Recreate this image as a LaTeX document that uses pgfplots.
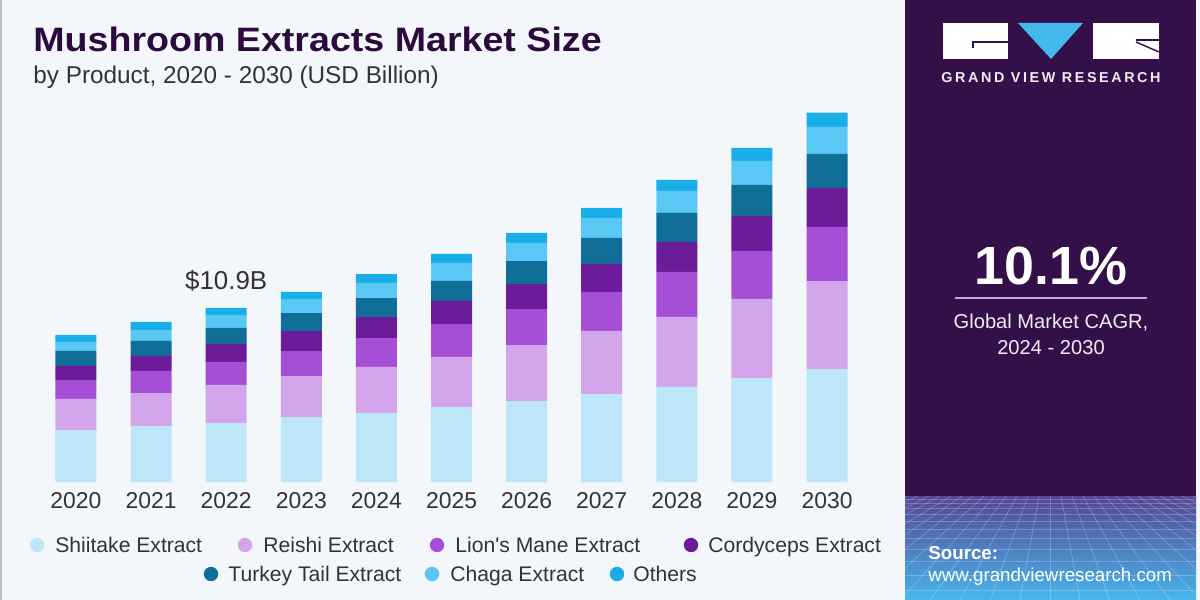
\documentclass[border=0pt]{standalone}
\usepackage{pgfplots}
\pgfplotsset{compat=1.18}
\usepackage{fontspec}
\setmainfont{Liberation Sans}
\newfontfamily\spaced[LetterSpace=18]{Liberation Sans}
\newfontfamily\legfont{Liberation Sans}[Ligatures=TeXOff]
\definecolor{bg}{HTML}{F3F7FB}
\definecolor{panel}{HTML}{34104A}
\definecolor{titlec}{HTML}{2D0A3E}
\definecolor{txt}{HTML}{333333}
\definecolor{logoblue}{HTML}{45B8EC}
\definecolor{lav}{HTML}{C4A8E0}
\definecolor{cShi}{HTML}{BDE7F8}
\definecolor{cRei}{HTML}{D3A6EC}
\definecolor{cLion}{HTML}{A54FD6}
\definecolor{cCord}{HTML}{6B1C99}
\definecolor{cTurk}{HTML}{106E98}
\definecolor{cChaga}{HTML}{5AC8F4}
\definecolor{cOth}{HTML}{1AAEE9}
\definecolor{gTop}{HTML}{554696}
\definecolor{gMid}{HTML}{4B6CB6}
\definecolor{gBot}{HTML}{48B6EA}
\begin{document}
\begin{tikzpicture}[x=0.5bp,y=-0.5bp]
% backgrounds
\fill[bg] (0,0) rectangle (1200,600);
\fill[black!25] (0,0) rectangle (2,600);
\fill[panel] (905,0) rectangle (1196,600);
\shade[top color=gTop, middle color=gMid, bottom color=gBot] (905,496) rectangle (1196,600);
\begin{scope}
\clip (905,496) rectangle (1196,600);
\foreach \yy in {499,503,508,514,521,529,538,549,561,575,590} {
  \draw[white, opacity=0.22, line width=0.4bp] (905,\yy) -- (1196,\yy);
}
\foreach \k in {-14,...,14} {
  \draw[white, opacity=0.22, line width=0.4bp] (1050+\k*11,496) -- (1050+\k*30,600);
}
\end{scope}
% logo
\fill[white] (943,23) rectangle (1008,59);
\fill[logoblue] (1018,23) -- (1083,23) -- (1051,59) -- cycle;
\fill[white] (1093,23) rectangle (1159,59);
\draw[panel, line width=0.7bp] (973,48) -- (973,42) -- (1008,42);
\draw[panel, line width=0.7bp] (1136,40) -- (1159,40);
\draw[panel, line width=0.7bp] (1136,42) -- (1159,52);
\node[text=white!92!panel, inner sep=0] at (1051,78) {\spaced\bfseries\fontsize{7.2}{8}\selectfont GRAND VIEW RESEARCH};
% CAGR
\node[text=white, inner sep=0] at (1051,266) {\bfseries\fontsize{27}{30}\selectfont 10.1\%};
\draw[lav, line width=1bp] (955,298) -- (1147,298);
\node[text=white!93!panel, inner sep=0] at (1051,322) {\fontsize{10.1}{12}\selectfont Global Market CAGR,};
\node[text=white!93!panel, inner sep=0] at (1051,348) {\fontsize{10.1}{12}\selectfont 2024 - 2030};
% source
\node[text=white, anchor=west, inner sep=0] at (928,553) {\bfseries\fontsize{9.4}{11}\selectfont Source:};
\node[text=white, anchor=west, inner sep=0] at (928,577) {\fontsize{9.4}{11}\selectfont www.grandviewresearch.com};
% titles
\node[text=titlec, anchor=base west, inner sep=0] at (33,52) {\scalebox{1.11}[1]{\bfseries\fontsize{17}{20}\selectfont Mushroom Extracts Market Size}};
\node[text=txt, anchor=base west, inner sep=0] at (33,84) {\fontsize{12.2}{14}\selectfont by Product, 2020 - 2030 (USD Billion)};
% chart
\begin{axis}[at={(11.7bp,-241bp)}, anchor=south west, scale only axis,
  width=428.1bp, height=200bp, xmin=-0.7, xmax=10.7, ymin=0, ymax=25,
  ybar stacked, bar width=20.5bp, axis line style={draw=none},
  ytick=\empty, xtick={0,...,10},
  xticklabels={2020,2021,2022,2023,2024,2025,2026,2027,2028,2029,2030},
  major tick length=0,
  xticklabel style={anchor=north, inner sep=0, yshift=-5bp, text=txt, font=\fontsize{11.5}{12}\selectfont},
  clip=false]
\addplot[fill=cShi, draw=none] coordinates {(0,3.25)(1,3.50)(2,3.69)(3,4.06)(4,4.31)(5,4.69)(6,5.06)(7,5.50)(8,5.94)(9,6.50)(10,7.06)};
\addplot[fill=cRei, draw=none] coordinates {(0,1.94)(1,2.06)(2,2.38)(3,2.56)(4,2.88)(5,3.13)(6,3.50)(7,3.94)(8,4.38)(9,4.94)(10,5.50)};
\addplot[fill=cLion, draw=none] coordinates {(0,1.19)(1,1.38)(2,1.44)(3,1.56)(4,1.81)(5,2.06)(6,2.25)(7,2.44)(8,2.81)(9,3.00)(10,3.38)};
\addplot[fill=cCord, draw=none] coordinates {(0,0.88)(1,0.94)(2,1.13)(3,1.25)(4,1.31)(5,1.44)(6,1.56)(7,1.75)(8,1.88)(9,2.19)(10,2.44)};
\addplot[fill=cTurk, draw=none] coordinates {(0,0.94)(1,0.94)(2,1.00)(3,1.13)(4,1.19)(5,1.25)(6,1.44)(7,1.63)(8,1.81)(9,1.94)(10,2.13)};
\addplot[fill=cChaga, draw=none] coordinates {(0,0.56)(1,0.69)(2,0.81)(3,0.88)(4,0.94)(5,1.13)(6,1.13)(7,1.25)(8,1.38)(9,1.50)(10,1.69)};
\addplot[fill=cOth, draw=none] coordinates {(0,0.44)(1,0.50)(2,0.44)(3,0.44)(4,0.56)(5,0.56)(6,0.63)(7,0.63)(8,0.69)(9,0.81)(10,0.88)};
\node[anchor=south, inner sep=0, yshift=8bp, text=txt, font=\fontsize{13}{14}\selectfont] at (axis cs:2,10.89) {\$10.9B};
\end{axis}
% legend
\foreach \cx/\tx/\col/\lab/\ly in {37/55/cShi/Shiitake Extract/545, 245/263/cRei/Reishi Extract/545, 437/455/cLion/Lion's Mane Extract/545, 691/708/cCord/Cordyceps Extract/545, 211/228/cTurk/Turkey Tail Extract/574, 432/450/cChaga/Chaga Extract/574, 617/633/cOth/Others/574} {
  \fill[\col] (\cx,\ly) circle[radius=3.6bp];
  \node[anchor=base west, inner sep=0, text=txt] at (\tx,\ly+7.5) {\legfont\fontsize{10.6}{12}\selectfont \lab};
}
\end{tikzpicture}
\end{document}
